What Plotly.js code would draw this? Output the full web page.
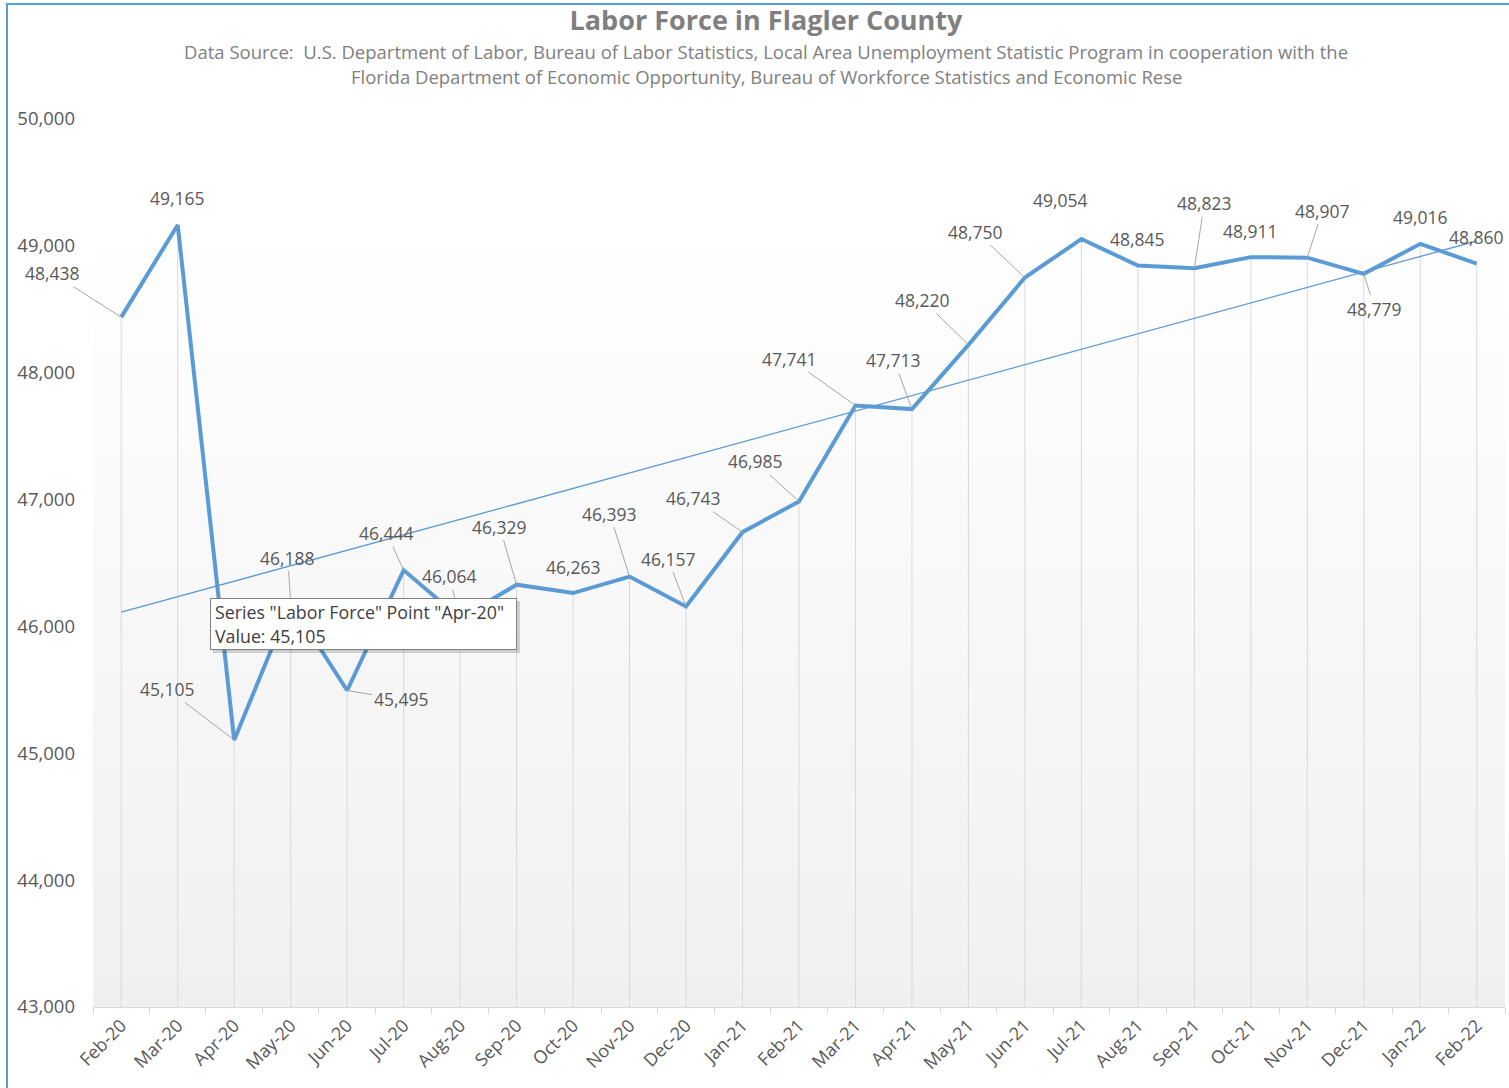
<!DOCTYPE html>
<html>
<head>
<meta charset="utf-8">
<script src="https://cdn.plot.ly/plotly-3.0.1.min.js"></script>
<style>
html,body{margin:0;padding:0;background:#ffffff;}
#wrap{position:relative;width:1509px;height:1088px;overflow:hidden;background:#ffffff;}
#frame{position:absolute;left:6px;top:3px;width:1530px;height:1110px;border-left:2px solid #5b9bd5;border-top:2px solid #5b9bd5;}
#bg{position:absolute;left:93px;top:119px;width:1412px;height:888px;background:linear-gradient(to bottom,#ffffff 0%,#ffffff 12%,#f0f0f0 100%);}
#chart{position:absolute;left:0;top:0;width:1509px;height:1088px;}
</style>
</head>
<body>
<div id="wrap">
  <div id="frame"></div>
  <div id="bg"></div>
  <div id="chart"></div>
</div>
<script>
// ---- Data ----
const months = ['Feb-20','Mar-20','Apr-20','May-20','Jun-20','Jul-20','Aug-20','Sep-20','Oct-20','Nov-20','Dec-20',
                'Jan-21','Feb-21','Mar-21','Apr-21','May-21','Jun-21','Jul-21','Aug-21','Sep-21','Oct-21','Nov-21','Dec-21',
                'Jan-22','Feb-22'];
const laborForce = [48438, 49165, 45105, 46188, 45495, 46444, 46064, 46329, 46263, 46393, 46157,
                    46743, 46985, 47741, 47713, 48220, 48750, 49054, 48845, 48823, 48911, 48907, 48779,
                    49016, 48860];
const yTickValues = [43000, 44000, 45000, 46000, 47000, 48000, 49000, 50000];
const seriesName = 'Labor Force';
const tooltipIndex = 2;

// ---- Label placement (pixel offsets of each data label from its point, leader line on/off) ----
const labelOffsets = [
  [-69,-44,1],[0,-27,0],[-67,-51,1],[-3,-45,1],[54,9,1],[-17,-37,1],[-11,-42,1],[-17,-58,1],[0,-26,0],
  [-20,-63,1],[-18,-48,1],[-49,-34,1],[-44,-40,1],[-66,-47,1],[-18,-49,1],[-46,-45,1],[-49,-46,1],
  [-21,-39,0],[0,-27,0],[10,-65,1],[0,-26,0],[15,-47,1],[11,35,1],[0,-27,0],[0,-27,0]
];

const fmt = v => String(Math.round(v)).replace(/\B(?=(\d{3})+(?!\d))/g, ',');
const yMin = yTickValues[0], yMax = yTickValues[yTickValues.length-1];

// linear trendline (least squares on month index)
const n = laborForce.length;
const idx = laborForce.map((_, i) => i);
const mx = idx.reduce((a,b)=>a+b,0)/n;
const my = laborForce.reduce((a,b)=>a+b,0)/n;
let sxy = 0, sxx = 0;
for (let i = 0; i < n; i++) { sxy += (i-mx)*(laborForce[i]-my); sxx += (i-mx)*(i-mx); }
const slope = sxy/sxx, intercept = my - slope*mx;
const trend = idx.map(i => intercept + slope*i);

const labelColor = '#595959';
const fontFam = '"Open Sans", "Noto Sans", sans-serif';

const traces = [
  { // drop lines
    x: months, y: laborForce, type: 'scatter', mode: 'markers',
    marker: {opacity: 0, size: 1},
    error_y: {type: 'data', symmetric: false, array: laborForce.map(()=>0),
              arrayminus: laborForce.map(v => v - yMin), color: '#d9d9d9', thickness: 1, width: 0},
    showlegend: false, hoverinfo: 'skip'
  },
  {
    x: months, y: laborForce, type: 'scatter', mode: 'lines', name: seriesName,
    line: {color: '#5b9bd5', width: 4, shape: 'linear'}, showlegend: false
  },
  {
    x: months, y: trend, type: 'scatter', mode: 'lines', name: 'Linear (' + seriesName + ')',
    line: {color: '#5b9bd5', width: 1.3}, showlegend: false
  }
];

const annotations = laborForce.map((v, i) => ({
  x: months[i], y: v, xref: 'x', yref: 'y',
  text: fmt(v), showarrow: true, arrowhead: 0, arrowwidth: 1,
  arrowcolor: labelOffsets[i][2] ? '#a6a6a6' : 'rgba(0,0,0,0)',
  ax: labelOffsets[i][0], ay: labelOffsets[i][1], standoff: 0,
  font: {family: fontFam, size: 17.5, color: labelColor}
}));

// subtitle lines
const subX = (766 - 93) / 1412;
annotations.push({
  xref: 'paper', yref: 'paper', x: subX, y: (1007 - 52) / 888, xanchor: 'center', yanchor: 'middle',
  showarrow: false,
  text: 'Data Source:  U.S. Department of Labor, Bureau of Labor Statistics, Local Area Unemployment Statistic Program in cooperation with the',
  font: {family: fontFam, size: 18.5, color: '#808080'}
});
annotations.push({
  xref: 'paper', yref: 'paper', x: subX, y: (1007 - 77) / 888, xanchor: 'center', yanchor: 'middle',
  showarrow: false,
  text: 'Florida Department of Economic Opportunity, Bureau of Workforce Statistics and Economic Rese',
  font: {family: fontFam, size: 18.5, color: '#808080'}
});

// tooltip (shadow + box)
const tipText = 'Series "' + seriesName + '" Point "' + months[tooltipIndex] + '"<br>Value: ' + fmt(laborForce[tooltipIndex]);
const tipX = (210 - 93) / 1412, tipY = (1007 - 598) / 888;
annotations.push({
  xref: 'paper', yref: 'paper', x: tipX, y: tipY, xanchor: 'left', yanchor: 'top',
  xshift: 3, yshift: -3, showarrow: false, text: ' ', width: 297, height: 42, borderpad: 5,
  bgcolor: 'rgba(0,0,0,0.16)', borderwidth: 0
});
annotations.push({
  xref: 'paper', yref: 'paper', x: tipX, y: tipY, xanchor: 'left', yanchor: 'top',
  showarrow: false, text: tipText, align: 'left', valign: 'middle', width: 297, height: 42, borderpad: 4,
  bgcolor: '#ffffff', bordercolor: '#808080', borderwidth: 1,
  font: {family: fontFam, size: 17.8, color: '#404040'}
});

const layout = {
  width: 1509, height: 1088,
  margin: {l: 93, r: 4, t: 119, b: 81, pad: 0},
  paper_bgcolor: 'rgba(0,0,0,0)', plot_bgcolor: 'rgba(0,0,0,0)',
  title: {
    text: '<b>Labor Force in Flagler County</b>',
    font: {family: fontFam, size: 27, color: '#7f7f7f'},
    xref: 'container', yref: 'container', x: 766/1509, xanchor: 'center', y: 1 - 21/1088, yanchor: 'middle'
  },
  xaxis: {
    type: 'category', categoryorder: 'array', categoryarray: months,
    range: [-0.5, months.length - 0.5], fixedrange: true,
    showgrid: false, zeroline: false,
    showline: true, linecolor: '#d9d9d9', linewidth: 1,
    ticks: 'outside', tickson: 'boundaries', ticklen: 6, tickcolor: '#d9d9d9', tickwidth: 1,
    tickangle: -45, tickfont: {family: fontFam, size: 18, color: labelColor}
  },
  yaxis: {
    range: [yMin, yMax], tickvals: yTickValues, ticktext: yTickValues.map(fmt),
    showgrid: false, zeroline: false, showline: false, ticks: '',
    ticklabelstandoff: 17, fixedrange: true,
    tickfont: {family: fontFam, size: 18.5, color: labelColor}
  },
  annotations: annotations,
  hovermode: false, showlegend: false
};

Plotly.newPlot('chart', traces, layout, {displayModeBar: false, staticPlot: true});
</script>
</body>
</html>
